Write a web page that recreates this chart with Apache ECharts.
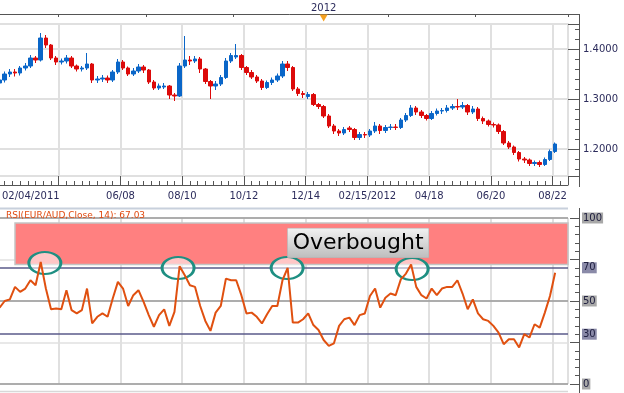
<!DOCTYPE html>
<html><head><meta charset="utf-8">
<script src="https://cdn.jsdelivr.net/npm/echarts@6/dist/echarts.min.js"></script>
<style>html,body{margin:0;padding:0;background:#fff}#c{width:624px;height:393px}</style>
</head><body><div id="c"></div>
<script>
// ---- data (EUR/AUD, ~3.6 trading days per bar) ----
const opens = [
1.332,1.338,1.350,1.354,1.352,1.362,1.366,1.382,1.378,1.422,
1.408,1.382,1.374,1.376,1.382,1.366,1.360,1.362,1.370,1.338,
1.340,1.342,1.338,1.354,1.374,1.362,1.350,1.356,1.364,1.358,
1.334,1.322,1.324,1.326,1.308,1.306,1.366,1.378,1.376,1.380,
1.360,1.335,1.326,1.330,1.343,1.376,1.384,1.387,1.363,1.353,
1.344,1.336,1.323,1.333,1.338,1.346,1.370,1.363,1.320,1.311,
1.305,1.309,1.289,1.285,1.266,1.246,1.236,1.232,1.242,1.239,
1.223,1.229,1.228,1.236,1.246,1.237,1.243,1.244,1.243,1.258,
1.267,1.282,1.274,1.267,1.261,1.271,1.276,1.277,1.282,1.285,
1.284,1.287,1.274,1.280,1.261,1.256,1.249,1.248,1.235,1.212,
1.204,1.193,1.180,1.178,1.171,1.173,1.169,1.179,1.195];
const closes = [
1.338,1.350,1.354,1.352,1.362,1.366,1.382,1.378,1.422,1.408,
1.382,1.374,1.376,1.382,1.366,1.360,1.362,1.370,1.338,1.340,
1.342,1.338,1.354,1.374,1.362,1.350,1.356,1.364,1.358,1.334,
1.322,1.326,1.326,1.308,1.306,1.366,1.378,1.376,1.380,1.360,
1.335,1.326,1.330,1.343,1.376,1.387,1.387,1.363,1.353,1.344,
1.336,1.323,1.333,1.338,1.346,1.370,1.363,1.320,1.311,1.309,
1.309,1.289,1.285,1.266,1.246,1.236,1.232,1.239,1.239,1.223,
1.229,1.228,1.236,1.246,1.237,1.243,1.244,1.243,1.258,1.267,
1.282,1.274,1.267,1.261,1.271,1.276,1.277,1.282,1.285,1.284,
1.287,1.274,1.280,1.261,1.256,1.249,1.248,1.235,1.212,1.204,
1.193,1.180,1.178,1.171,1.173,1.169,1.179,1.195,1.210];
const lows = [
1.327,1.333,1.344,1.345,1.347,1.357,1.362,1.372,1.375,1.402,
1.378,1.368,1.369,1.371,1.362,1.355,1.355,1.358,1.332,1.332,
1.334,1.332,1.334,1.350,1.358,1.346,1.346,1.352,1.352,1.330,
1.318,1.318,1.320,1.300,1.296,1.304,1.362,1.368,1.372,1.352,
1.330,1.300,1.318,1.326,1.340,1.372,1.380,1.358,1.348,1.340,
1.332,1.318,1.320,1.328,1.334,1.342,1.356,1.316,1.306,1.302,
1.300,1.286,1.280,1.262,1.242,1.230,1.226,1.228,1.234,1.218,
1.218,1.222,1.224,1.232,1.230,1.232,1.238,1.238,1.240,1.254,
1.264,1.268,1.262,1.257,1.258,1.267,1.270,1.273,1.278,1.278,
1.280,1.268,1.270,1.256,1.250,1.245,1.243,1.230,1.208,1.200,
1.188,1.175,1.172,1.166,1.166,1.164,1.166,1.176,1.192];
const highs = [
1.343,1.355,1.360,1.360,1.366,1.372,1.388,1.386,1.432,1.428,
1.410,1.386,1.381,1.388,1.386,1.369,1.366,1.392,1.372,1.346,
1.348,1.347,1.358,1.380,1.378,1.365,1.362,1.370,1.368,1.360,
1.338,1.331,1.332,1.328,1.312,1.372,1.426,1.386,1.386,1.384,
1.362,1.338,1.336,1.348,1.382,1.392,1.410,1.390,1.366,1.358,
1.348,1.340,1.337,1.343,1.351,1.376,1.376,1.366,1.324,1.316,
1.314,1.312,1.292,1.288,1.270,1.250,1.240,1.244,1.246,1.242,
1.234,1.234,1.240,1.254,1.250,1.248,1.250,1.250,1.262,1.272,
1.288,1.286,1.278,1.270,1.276,1.281,1.282,1.288,1.290,1.300,
1.294,1.290,1.286,1.284,1.265,1.259,1.253,1.251,1.238,1.216,
1.207,1.196,1.184,1.181,1.177,1.177,1.183,1.199,1.213];
const rsiValues = [
46,50,51,58.5,55.5,57.5,62.5,59.5,73.5,57.5,
45,45.5,45,56.5,44.5,42.5,44.5,57.5,36.5,40.5,
42.5,40.5,51.5,61.5,57.5,47,53.5,56.5,49.5,41.5,
34.5,41.5,45,35,43.5,71,65.5,59.5,58.5,47,
38,32,43,47,63.5,62.5,62.5,53.5,42.5,43,
40.5,36.5,42,47,47,62.5,70,37,37,39,
42.5,35.5,32.5,26.5,23,24.5,35,39,40,35.5,
41.5,42.5,53,57.5,46,52,54.5,53.5,63,66.5,
72,58.5,53.5,51.5,57.5,53.5,57.5,58.5,58.5,62.5,
54.5,45,51,42.5,39,38,35,31,24,27,
27,22,30,28,36,34,43,53,67.03];
const dateTicks = ['02/04/2011','','06/08','08/10','10/12','12/14','02/15/2012','04/18','06/20','08/22'];
const barsPerDateTick = 12;
const slotCount = 111;
const yearTickIdx = [12,29,46,63,76,93];
const yearLabels = {63:'2012'};
const lastPrice = 1.21014;
const rsiTitle = 'RSI(EUR/AUD,Close, 14): 67.03';
const rsiLevels = [100,70,50,30,0];
const overbought = [72,97];
const overboughtStart = 3.5;
const circleX = [9.3,35.2,56.4,80.7];
const circleY = [72.9,69.9,69.9,69.3];
const labelPos = [70.2,85];

const slots = Array.from({length: slotCount}, (_, i) => String(i));
const ohlc = opens.map((o, i) => [o, closes[i], lows[i], highs[i]]);
const rsiData = rsiValues.map((v, i) => [i + 0.5, v]);

const FONT = 'DejaVu Sans';
const TXT = '#2c2c5c';
const GRIDC = '#e0e0e0';
const AX = '#555';

const chart = echarts.init(document.getElementById('c'), null, {renderer: 'canvas'});
chart.setOption({
  animation: false,
  backgroundColor: '#fff',
  title: {text: rsiTitle, left: 1, top: 206, textStyle: {fontSize: 9, fontWeight: 'normal', color: '#e04a10', fontFamily: FONT}},
  grid: [
    {left: -3, right: 56, top: 24, bottom: 217, show: true, borderColor: '#d6d6d6', borderWidth: 1.5, outerBoundsMode: 'none'},
    {left: -3, right: 56, top: 218, bottom: 9, outerBoundsMode: 'none'}
  ],
  xAxis: [
    {gridIndex: 0, type: 'category', data: slots, show: false, position: 'bottom', boundaryGap: true,
      axisLine: {show: false, onZero: false}, axisTick: {show: false}, axisLabel: {show: false}, splitLine: {show: false}},
    {gridIndex: 0, type: 'value', min: 0, max: slotCount, interval: barsPerDateTick, position: 'bottom', offset: 9,
      axisLine: {show: true, onZero: false, lineStyle: {color: AX, width: 1}},
      axisTick: {show: true, inside: true, length: 9, lineStyle: {color: AX}},
      minorTick: {show: true, splitNumber: 8, length: 4, lineStyle: {color: AX}},
      splitLine: {show: true, lineStyle: {color: GRIDC, width: 2}},
      axisLabel: {show: true, margin: 6, color: TXT, fontSize: 10, fontFamily: FONT, alignMinLabel: 'left', showMaxLabel: false,
        rich: {first: {padding: [0, 0, 0, 5], color: TXT, fontSize: 10, fontFamily: FONT}},
        formatter: v => {
          if (v % barsPerDateTick !== 0 || dateTicks[v / barsPerDateTick] === undefined) return '';
          const t = dateTicks[v / barsPerDateTick];
          return v === 0 ? '{first|' + t + '}' : t;
        }}
    },
    {gridIndex: 0, type: 'category', data: slots, position: 'top', offset: 10, boundaryGap: true,
      axisLine: {show: false, onZero: false},
      axisTick: {show: true, inside: true, length: 3, interval: (i) => yearTickIdx.includes(i), lineStyle: {color: AX}},
      axisLabel: {show: true, interval: (i) => yearLabels[i] !== undefined, formatter: (v, i) => yearLabels[i] || '', margin: 1, color: TXT, fontSize: 10, fontFamily: FONT},
      splitLine: {show: false}
    },
    {gridIndex: 1, type: 'value', min: 0, max: slotCount, interval: barsPerDateTick,
      axisLine: {show: false, onZero: false}, axisTick: {show: false}, axisLabel: {show: false},
      splitLine: {show: true, lineStyle: {color: GRIDC, width: 2}}
    }
  ],
  yAxis: [
    {gridIndex: 0, type: 'value', position: 'right', offset: 11, min: 1.146, max: 1.45, splitNumber: 3,
      axisLine: {show: true, onZero: false, lineStyle: {color: AX}},
      axisTick: {show: true, inside: true, length: 11, lineStyle: {color: AX}},
      minorTick: {show: true, splitNumber: 5, length: 4, lineStyle: {color: AX}},
      splitLine: {show: true, lineStyle: {color: GRIDC, width: 2}},
      axisLabel: {show: true, margin: 4, color: TXT, fontSize: 10, fontFamily: FONT, showMinLabel: false, showMaxLabel: false,
        formatter: v => v.toFixed(4)}
    },
    {gridIndex: 1, type: 'value', position: 'right', offset: 11, min: 0, max: 100, interval: 25,
      axisLine: {show: true, onZero: false, lineStyle: {color: AX}},
      axisTick: {show: true, inside: true, length: 9, lineStyle: {color: AX}},
      minorTick: {show: true, splitNumber: 5, length: 4, lineStyle: {color: AX}},
      splitLine: {show: true, lineStyle: {color: GRIDC, width: 1.5}},
      axisLabel: {show: false}
    }
  ],
  series: [
    {type: 'candlestick', xAxisIndex: 0, yAxisIndex: 0, data: ohlc, barWidth: 4,
      itemStyle: {color: '#0a66c8', color0: '#dc0a0a', borderColor: '#0a66c8', borderColor0: '#dc0a0a', borderWidth: 1},
      markLine: {silent: true, symbol: ['none', 'none'], data: [{yAxis: lastPrice}],
        lineStyle: {opacity: 0},
        label: {show: true, position: 'end', distance: 10, formatter: lastPrice.toFixed(5), backgroundColor: '#66ccff', color: '#1a1a40', padding: [2, 8, 1, 4], fontSize: 10.5, fontFamily: FONT}},
      markPoint: {silent: true, symbol: 'triangle', symbolRotate: 180, symbolSize: [8, 7], symbolOffset: [0, -6],
        itemStyle: {color: '#f5a020'}, label: {show: false},
        data: [{coord: [63, 1.45]}]}
    },
    {type: 'scatter', xAxisIndex: 3, yAxisIndex: 1, z: 3, symbol: 'circle', symbolSize: [32, 22],
      data: circleX.map((x, i) => [x, circleY[i]]),
      itemStyle: {color: 'rgba(255,255,255,0.55)', borderColor: '#1e8f82', borderWidth: 2.5, opacity: 1}
    },
    {type: 'line', xAxisIndex: 3, yAxisIndex: 1, z: 4, data: rsiData, symbol: 'none',
      lineStyle: {color: '#e05010', width: 2}, itemStyle: {color: '#e05010'},
      markArea: {silent: true, z: 1, data: [[{xAxis: overboughtStart, yAxis: overbought[1]}, {xAxis: slotCount, yAxis: overbought[0]}]],
        itemStyle: {color: '#ff8080', borderColor: '#c4c4c4', borderWidth: 1.5}},
      markLine: {silent: true, symbol: ['none', 'none'], z: 2,
        data: rsiLevels.map(v => ({yAxis: v,
          lineStyle: {color: (v === 70 || v === 30) ? '#5a5a8a' : '#9a9a9a', width: 1.5, type: 'solid'},
          label: {backgroundColor: (v === 70 || v === 30) ? '#8a8aa8' : '#a8a8a8'}})),
        label: {show: true, position: 'end', distance: 14, formatter: p => String(p.value), color: '#202040', padding: [1, 1, 0, 1], fontSize: 10, fontFamily: FONT}},
      markPoint: {silent: true, symbol: 'rect', symbolSize: 0,
        data: [{coord: labelPos}],
        label: {show: true, position: 'inside', formatter: 'Overbought', fontSize: 22, color: '#000', fontFamily: FONT,
          padding: [4, 5, 3, 5],
          backgroundColor: new echarts.graphic.LinearGradient(0, 0, 0, 1, [{offset: 0, color: '#f2f2f2'}, {offset: 1, color: '#bdbdbd'}]),
          borderColor: '#b0b0b0', borderWidth: 0.5}}
    }
  ],
  graphic: [
    {type: 'line', shape: {x1: 0, y1: 14.5, x2: 579.5, y2: 14.5}, style: {stroke: AX, lineWidth: 1}, silent: true},
    {type: 'line', shape: {x1: 579.5, y1: 14, x2: 579.5, y2: 187}, style: {stroke: AX, lineWidth: 1}, silent: true},
    {type: 'line', shape: {x1: 579.5, y1: 208, x2: 579.5, y2: 393}, style: {stroke: AX, lineWidth: 1}, silent: true},
    {type: 'line', shape: {x1: 0, y1: 208.5, x2: 568, y2: 208.5}, style: {stroke: '#c8d0dc', lineWidth: 2}, silent: true},
    {type: 'line', shape: {x1: 0, y1: 391.5, x2: 568, y2: 391.5}, style: {stroke: '#d8d8d8', lineWidth: 1.5}, silent: true}
  ]
});
</script></body></html>
